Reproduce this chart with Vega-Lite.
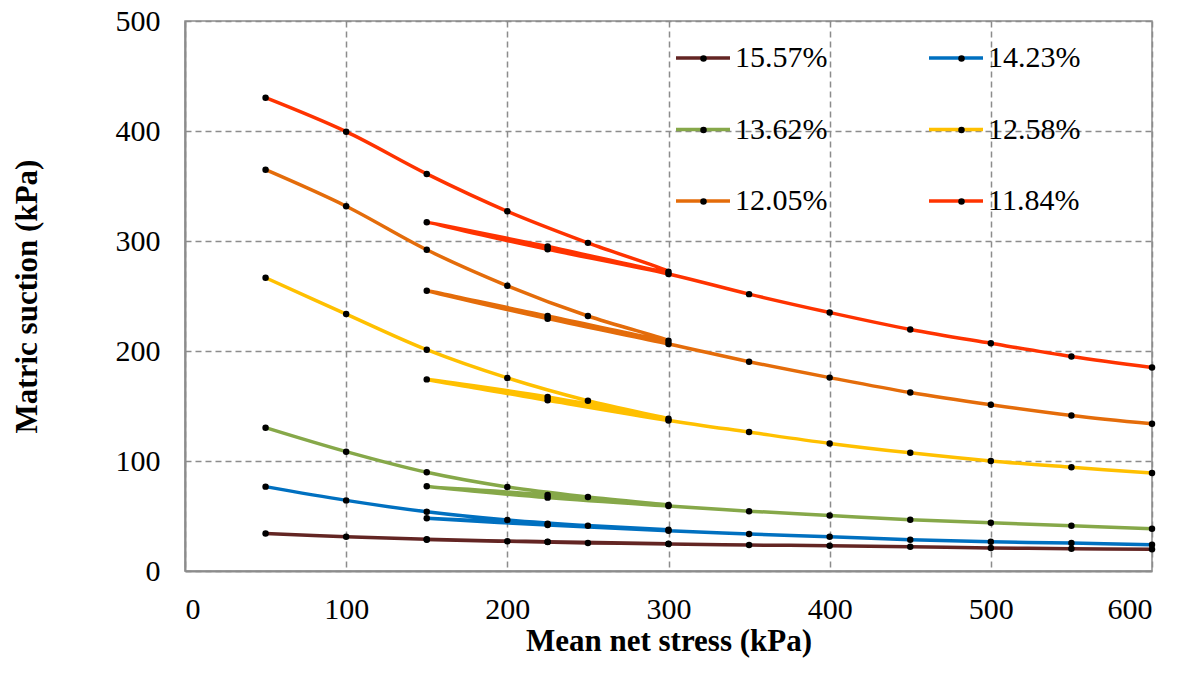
{
  "$schema": "https://vega.github.io/schema/vega-lite/v6.json",
  "width": 967,
  "height": 550,
  "autosize": {"type": "none"},
  "padding": {"left": 185, "top": 21, "right": 28, "bottom": 102},
  "background": "white",
  "config": {
    "font": "Liberation Serif",
    "view": {"stroke": "#8c8c8c", "strokeWidth": 1.5},
    "axis": {
      "labelFont": "Liberation Serif",
      "labelFontSize": 30,
      "labelColor": "black",
      "titleFont": "Liberation Serif",
      "titleFontSize": 31,
      "titleFontWeight": "bold",
      "titleColor": "black",
      "ticks": false,
      "tickSize": 0,
      "domainColor": "#8c8c8c",
      "domainWidth": 2,
      "grid": true,
      "gridColor": "#8c8c8c",
      "gridWidth": 1.5,
      "gridDash": [6, 4]
    }
  },
  "data": {
    "values": [
      {"series": "15.57%", "label": "15.57%", "seq": 1, "stress": 50, "suction": 34},
      {"series": "15.57%", "label": "15.57%", "seq": 2, "stress": 100, "suction": 31.2},
      {"series": "15.57%", "label": "15.57%", "seq": 3, "stress": 150, "suction": 28.8},
      {"series": "15.57%", "label": "15.57%", "seq": 4, "stress": 200, "suction": 27},
      {"series": "15.57%", "label": "15.57%", "seq": 5, "stress": 250, "suction": 25.5},
      {"series": "15.57%", "label": "15.57%", "seq": 6, "stress": 300, "suction": 24.8},
      {"series": "15.57%", "label": "15.57%", "seq": 7, "stress": 225, "suction": 26.7},
      {"series": "15.57%", "label": "15.57%", "seq": 8, "stress": 150, "suction": 28.5},
      {"series": "15.57%", "label": "15.57%", "seq": 9, "stress": 225, "suction": 26.3},
      {"series": "15.57%", "label": "15.57%", "seq": 10, "stress": 300, "suction": 24.5},
      {"series": "15.57%", "label": "15.57%", "seq": 11, "stress": 350, "suction": 23.6},
      {"series": "15.57%", "label": "15.57%", "seq": 12, "stress": 400, "suction": 23},
      {"series": "15.57%", "label": "15.57%", "seq": 13, "stress": 450, "suction": 22.1},
      {"series": "15.57%", "label": "15.57%", "seq": 14, "stress": 500, "suction": 21},
      {"series": "15.57%", "label": "15.57%", "seq": 15, "stress": 550, "suction": 20.3},
      {"series": "15.57%", "label": "15.57%", "seq": 16, "stress": 600, "suction": 19.7},

      {"series": "14.23%", "label": "14.23%", "seq": 1, "stress": 50, "suction": 76.7},
      {"series": "14.23%", "label": "14.23%", "seq": 2, "stress": 100, "suction": 64.2},
      {"series": "14.23%", "label": "14.23%", "seq": 3, "stress": 150, "suction": 53.9},
      {"series": "14.23%", "label": "14.23%", "seq": 4, "stress": 200, "suction": 46.4},
      {"series": "14.23%", "label": "14.23%", "seq": 5, "stress": 250, "suction": 41.2},
      {"series": "14.23%", "label": "14.23%", "seq": 6, "stress": 300, "suction": 37.5},
      {"series": "14.23%", "label": "14.23%", "seq": 7, "stress": 225, "suction": 43},
      {"series": "14.23%", "label": "14.23%", "seq": 8, "stress": 150, "suction": 47.9},
      {"series": "14.23%", "label": "14.23%", "seq": 9, "stress": 225, "suction": 41.8},
      {"series": "14.23%", "label": "14.23%", "seq": 10, "stress": 300, "suction": 36.5},
      {"series": "14.23%", "label": "14.23%", "seq": 11, "stress": 350, "suction": 33.6},
      {"series": "14.23%", "label": "14.23%", "seq": 12, "stress": 400, "suction": 31.1},
      {"series": "14.23%", "label": "14.23%", "seq": 13, "stress": 450, "suction": 28.4},
      {"series": "14.23%", "label": "14.23%", "seq": 14, "stress": 500, "suction": 26.6},
      {"series": "14.23%", "label": "14.23%", "seq": 15, "stress": 550, "suction": 25.4},
      {"series": "14.23%", "label": "14.23%", "seq": 16, "stress": 600, "suction": 23.9},

      {"series": "13.62%", "label": "13.62%", "seq": 1, "stress": 50, "suction": 130.3},
      {"series": "13.62%", "label": "13.62%", "seq": 2, "stress": 100, "suction": 108.5},
      {"series": "13.62%", "label": "13.62%", "seq": 3, "stress": 150, "suction": 89.7},
      {"series": "13.62%", "label": "13.62%", "seq": 4, "stress": 200, "suction": 76.4},
      {"series": "13.62%", "label": "13.62%", "seq": 5, "stress": 250, "suction": 67.3},
      {"series": "13.62%", "label": "13.62%", "seq": 6, "stress": 300, "suction": 60},
      {"series": "13.62%", "label": "13.62%", "seq": 7, "stress": 225, "suction": 69.1},
      {"series": "13.62%", "label": "13.62%", "seq": 8, "stress": 150, "suction": 77},
      {"series": "13.62%", "label": "13.62%", "seq": 9, "stress": 225, "suction": 66.7},
      {"series": "13.62%", "label": "13.62%", "seq": 10, "stress": 300, "suction": 59},
      {"series": "13.62%", "label": "13.62%", "seq": 11, "stress": 350, "suction": 54.4},
      {"series": "13.62%", "label": "13.62%", "seq": 12, "stress": 400, "suction": 50.5},
      {"series": "13.62%", "label": "13.62%", "seq": 13, "stress": 450, "suction": 46.6},
      {"series": "13.62%", "label": "13.62%", "seq": 14, "stress": 500, "suction": 43.8},
      {"series": "13.62%", "label": "13.62%", "seq": 15, "stress": 550, "suction": 41.1},
      {"series": "13.62%", "label": "13.62%", "seq": 16, "stress": 600, "suction": 38.4},

      {"series": "12.58%", "label": "12.58%", "seq": 1, "stress": 50, "suction": 266.6},
      {"series": "12.58%", "label": "12.58%", "seq": 2, "stress": 100, "suction": 233.6},
      {"series": "12.58%", "label": "12.58%", "seq": 3, "stress": 150, "suction": 201.2},
      {"series": "12.58%", "label": "12.58%", "seq": 4, "stress": 200, "suction": 175.5},
      {"series": "12.58%", "label": "12.58%", "seq": 5, "stress": 250, "suction": 154.8},
      {"series": "12.58%", "label": "12.58%", "seq": 6, "stress": 300, "suction": 138.4},
      {"series": "12.58%", "label": "12.58%", "seq": 7, "stress": 225, "suction": 158.2},
      {"series": "12.58%", "label": "12.58%", "seq": 8, "stress": 150, "suction": 174.2},
      {"series": "12.58%", "label": "12.58%", "seq": 9, "stress": 225, "suction": 155.2},
      {"series": "12.58%", "label": "12.58%", "seq": 10, "stress": 300, "suction": 136.9},
      {"series": "12.58%", "label": "12.58%", "seq": 11, "stress": 350, "suction": 126.3},
      {"series": "12.58%", "label": "12.58%", "seq": 12, "stress": 400, "suction": 116},
      {"series": "12.58%", "label": "12.58%", "seq": 13, "stress": 450, "suction": 107.4},
      {"series": "12.58%", "label": "12.58%", "seq": 14, "stress": 500, "suction": 100},
      {"series": "12.58%", "label": "12.58%", "seq": 15, "stress": 550, "suction": 94.3},
      {"series": "12.58%", "label": "12.58%", "seq": 16, "stress": 600, "suction": 89.1},

      {"series": "12.05%", "label": "12.05%", "seq": 1, "stress": 50, "suction": 364.8},
      {"series": "12.05%", "label": "12.05%", "seq": 2, "stress": 100, "suction": 331.6},
      {"series": "12.05%", "label": "12.05%", "seq": 3, "stress": 150, "suction": 292},
      {"series": "12.05%", "label": "12.05%", "seq": 4, "stress": 200, "suction": 259.3},
      {"series": "12.05%", "label": "12.05%", "seq": 5, "stress": 250, "suction": 231.8},
      {"series": "12.05%", "label": "12.05%", "seq": 6, "stress": 300, "suction": 209.4},
      {"series": "12.05%", "label": "12.05%", "seq": 7, "stress": 225, "suction": 231.8},
      {"series": "12.05%", "label": "12.05%", "seq": 8, "stress": 150, "suction": 254.8},
      {"series": "12.05%", "label": "12.05%", "seq": 9, "stress": 225, "suction": 229.4},
      {"series": "12.05%", "label": "12.05%", "seq": 10, "stress": 300, "suction": 206.4},
      {"series": "12.05%", "label": "12.05%", "seq": 11, "stress": 350, "suction": 190.3},
      {"series": "12.05%", "label": "12.05%", "seq": 12, "stress": 400, "suction": 175.8},
      {"series": "12.05%", "label": "12.05%", "seq": 13, "stress": 450, "suction": 162.2},
      {"series": "12.05%", "label": "12.05%", "seq": 14, "stress": 500, "suction": 151.1},
      {"series": "12.05%", "label": "12.05%", "seq": 15, "stress": 550, "suction": 141.4},
      {"series": "12.05%", "label": "12.05%", "seq": 16, "stress": 600, "suction": 133.8},

      {"series": "11.84%", "label": "11.84%", "seq": 1, "stress": 50, "suction": 430.3},
      {"series": "11.84%", "label": "11.84%", "seq": 2, "stress": 100, "suction": 399.4},
      {"series": "11.84%", "label": "11.84%", "seq": 3, "stress": 150, "suction": 361},
      {"series": "11.84%", "label": "11.84%", "seq": 4, "stress": 200, "suction": 327},
      {"series": "11.84%", "label": "11.84%", "seq": 5, "stress": 250, "suction": 298.3},
      {"series": "11.84%", "label": "11.84%", "seq": 6, "stress": 300, "suction": 272},
      {"series": "11.84%", "label": "11.84%", "seq": 7, "stress": 225, "suction": 295},
      {"series": "11.84%", "label": "11.84%", "seq": 8, "stress": 150, "suction": 317},
      {"series": "11.84%", "label": "11.84%", "seq": 9, "stress": 225, "suction": 292.5},
      {"series": "11.84%", "label": "11.84%", "seq": 10, "stress": 300, "suction": 270},
      {"series": "11.84%", "label": "11.84%", "seq": 11, "stress": 350, "suction": 251.7},
      {"series": "11.84%", "label": "11.84%", "seq": 12, "stress": 400, "suction": 235},
      {"series": "11.84%", "label": "11.84%", "seq": 13, "stress": 450, "suction": 219.6},
      {"series": "11.84%", "label": "11.84%", "seq": 14, "stress": 500, "suction": 207},
      {"series": "11.84%", "label": "11.84%", "seq": 15, "stress": 550, "suction": 195},
      {"series": "11.84%", "label": "11.84%", "seq": 16, "stress": 600, "suction": 185}
    ]
  },
  "encoding": {
    "x": {
      "field": "stress",
      "type": "quantitative",
      "scale": {"domain": [0, 600], "nice": false},
      "axis": {
        "title": "Mean net stress (kPa)",
        "values": [0, 100, 200, 300, 400, 500, 600],
        "labelPadding": 23,
        "titlePadding": 2
      }
    },
    "y": {
      "field": "suction",
      "type": "quantitative",
      "scale": {"domain": [0, 500], "nice": false},
      "axis": {
        "title": "Matric suction (kPa)",
        "values": [0, 100, 200, 300, 400, 500],
        "labelPadding": 25,
        "titlePadding": 72
      }
    }
  },
  "layer": [
    {
      "mark": {"type": "line", "strokeWidth": 3.5, "interpolate": "catmull-rom"},
      "encoding": {
        "color": {
          "field": "series",
          "type": "nominal",
          "scale": {
            "domain": ["15.57%", "14.23%", "13.62%", "12.58%", "12.05%", "11.84%"],
            "range": ["#632523", "#0070C0", "#86A849", "#FFC000", "#E46C0A", "#FF3300"]
          },
          "legend": {
            "orient": "none",
            "direction": "horizontal",
            "legendX": 489,
            "legendY": 8,
            "columns": 2,
            "title": null,
            "symbolType": "stroke",
            "symbolSize": 2916,
            "symbolStrokeWidth": 3.5,
            "labelFont": "Liberation Serif",
            "labelFontSize": 30,
            "labelColor": "black",
            "labelOffset": 3,
            "columnPadding": 94,
            "rowPadding": 27.5,
            "padding": 0
          }
        },
        "order": {"field": "seq", "type": "quantitative"}
      }
    },
    {
      "mark": {"type": "point", "filled": true, "color": "black", "size": 42, "opacity": 1},
      "encoding": {
        "shape": {
          "field": "label",
          "type": "nominal",
          "sort": "descending",
          "scale": {"range": ["circle"]},
          "legend": {
            "orient": "none",
            "direction": "horizontal",
            "legendX": 503.5,
            "legendY": 22.5,
            "columns": 2,
            "title": null,
            "symbolType": "circle",
            "symbolSize": 42,
            "symbolFillColor": "black",
            "symbolStrokeColor": "black",
            "symbolStrokeWidth": 0,
            "labelExpr": "''",
            "labelFontSize": 30,
            "labelOffset": 0,
            "columnPadding": 228,
            "rowPadding": 41.5,
            "padding": 0
          }
        }
      }
    }
  ]
}
